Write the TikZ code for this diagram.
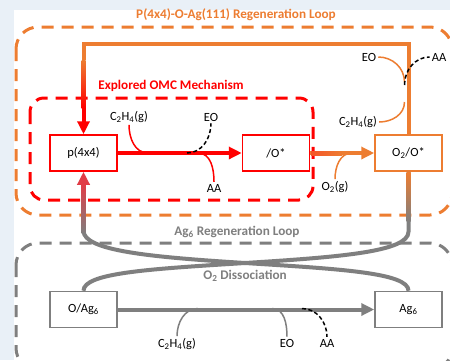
\documentclass[tikz,border=0pt]{standalone}
\usepackage{fontspec}
\setmainfont{Carlito}
\usetikzlibrary{positioning,arrows.meta,calc}
\definecolor{loopor}{RGB}{237,125,49}
\definecolor{omcred}{RGB}{255,0,0}
\definecolor{aggray}{RGB}{127,127,127}
\definecolor{pagebg}{RGB}{233,240,247}
\definecolor{fadered}{RGB}{225,60,70}
\definecolor{fadeor}{RGB}{245,85,40}
\tikzset{
	species/.style={draw=#1, line width=1.5pt, fill=white, minimum width=67pt, minimum height=36pt, inner sep=0pt, text=black, font=\fontsize{12.5}{14}\selectfont},
	chem/.style={inner sep=2pt, font=\fontsize{12.5}{14}\selectfont},
	looptitle/.style={font=\bfseries\fontsize{13.2}{15}\selectfont},
	loopbox/.style={line width=3pt, dash pattern=on 12pt off 8pt, rounded corners=22pt},
	pipe/.style={line width=4pt},
	head/.style={-{Triangle[length=13pt,width=12pt]}},
	branch/.style={line width=1.5pt},
	product/.style={black, line width=1.5pt, dash pattern=on 4pt off 2.5pt}
}

\begin{document}
\begin{tikzpicture}[x=1pt,y=-1pt]
		\useasboundingbox (0,0) rectangle (450,360);
		\fill[pagebg] (0,0) rectangle (450,360);
		\fill[white] (14,10) rectangle (450,360);
		
		\draw[loopbox, loopor] (16,27) rectangle (452,215);
		\draw[loopbox, omcred, rounded corners=14pt] (30,98) rectangle (313,200);
		\draw[loopbox, aggray] (16,243) rectangle (452,370);
		
		\node[looptitle, loopor] (ortitle) at (236,15) {P(4x4)-O-Ag(111) Regeneration Loop};
		\node[looptitle, omcred] (omctitle) at (171,86) {Explored OMC Mechanism};
		\node[looptitle, aggray] (agtitle) at (237,232) {Ag\textsubscript{6} Regeneration Loop};
		\node[looptitle, aggray] (disstitle) at (245,276) {O\textsubscript{2} Dissociation};
		
		\node[species=omcred] (p44) at (83.5,153) {p(4x4)};
		\node[species=omcred] (ostar) [right = 124pt of p44] {/O*};
		\node[species=loopor] (o2o) [right = 64pt of ostar] {O\textsubscript{2}/O*};
		\node[species=aggray] (oag) [below = 119pt of p44] {O/Ag\textsubscript{6}};
		\node[species=aggray] (ag6) [below = 119pt of o2o] {Ag\textsubscript{6}};
		
		\coordinate (looptop) at (0,44);
		\coordinate (fadetop) at (0,60);
		\coordinate (fadebot) at (0,108);
		\coordinate (cross) at (245,263);
		
		\draw[pipe, loopor] (o2o.north) -- (o2o.north |- looptop) -- (p44.north |- looptop) -- (p44.north |- fadetop);
		\shade[top color=loopor, bottom color=omcred] ($(p44.north |- fadetop)+(-2,0)$) rectangle ($(p44.north |- fadebot)+(2,0)$);
		\draw[pipe, head, omcred] (p44.north |- fadebot) -- (p44.north);
		
		\draw[pipe, head, omcred] (p44) -- (ostar);
		\draw[pipe, head, loopor] (ostar) -- (o2o);
		\shade[left color=fadeor, right color=loopor] ($(ostar.east)+(0.75,-2)$) rectangle ($(ostar.east)+(32,2)$);
		
		\draw[pipe, aggray] (o2o.south) -- ++(0,60) .. controls +(0,20) and (340,257) .. (cross) .. controls (150,269) and ($(oag.north)+(0,-18)$) .. (oag.north);
		\shade[top color=loopor, bottom color=aggray] ($(o2o.south)+(-2,0.75)$) rectangle ($(o2o.south)+(2,50)$);
		\draw[pipe, aggray] (ag6.north) .. controls ($(ag6.north)+(0,-18)$) and (340,269) .. (cross) .. controls (150,257) and ($(p44.south)+(0,79)$) .. ($(p44.south)+(0,59)$) -- ($(p44.south)+(0,40)$);
		\shade[top color=fadered, bottom color=aggray] ($(p44.south)+(-2,12)$) rectangle ($(p44.south)+(2,62)$);
		\draw[pipe, head, fadered] ($(p44.south)+(0,14)$) -- (p44.south);
		
		\draw[pipe, head, aggray] (oag) -- (ag6);
		
		\node[chem] (c2h4a) at (129,117) {C\textsubscript{2}H\textsubscript{4}(g)};
		\node[chem] (eoa) at (211,117) {EO};
		\node[chem] (aaa) at (214,188) {AA};
		\coordinate (c2h4a-in) at (148,153);
		\coordinate (eoa-out) at (187,153);
		\coordinate (aaa-out) at (198,153);
		\draw[branch, omcred] (c2h4a) to[out=-90,in=180] (c2h4a-in);
		\draw[product] (eoa-out) to[out=0,in=-90] (eoa);
		\draw[branch, omcred] (aaa-out) to[out=0,in=90] (aaa);
		
		\node[chem] (o2g) at (335,187) {O\textsubscript{2}(g)};
		\node[chem] (eob) at (369,57) {EO};
		\node[chem] (aab) at (439,57) {AA};
		\node[chem] (c2h4b) at (358,122) {C\textsubscript{2}H\textsubscript{4}(g)};
		\coordinate (o2g-in) at (352,153);
		\coordinate (eob-in) at (404.5,82);
		\coordinate (aab-out) at (404.5,85);
		\coordinate (c2h4b-in) at (404.5,102);
		\draw[branch, loopor] (o2g) to[out=90,in=180] (o2g-in);
		\draw[branch, loopor] (eob) to[out=0,in=90] (eob-in);
		\draw[product] (aab-out) to[out=90,in=180] (aab);
		\draw[branch, loopor] (c2h4b) to[out=0,in=-90] (c2h4b-in);
		
		\node[chem] (c2h4c) at (177,344) {C\textsubscript{2}H\textsubscript{4}(g)};
		\node[chem] (eoc) at (287,343) {EO};
		\node[chem] (aac) at (327,343) {AA};
		\coordinate (c2h4c-in) at (198,308.5);
		\coordinate (eoc-out) at (272,308.5);
		\coordinate (aac-out) at (302,308.5);
		\draw[branch, aggray] (c2h4c) to[out=90,in=180] (c2h4c-in);
		\draw[branch, aggray] (eoc-out) to[out=0,in=90] (eoc);
		\draw[product] (aac-out) to[out=0,in=90] (aac);
\end{tikzpicture}
\end{document}
